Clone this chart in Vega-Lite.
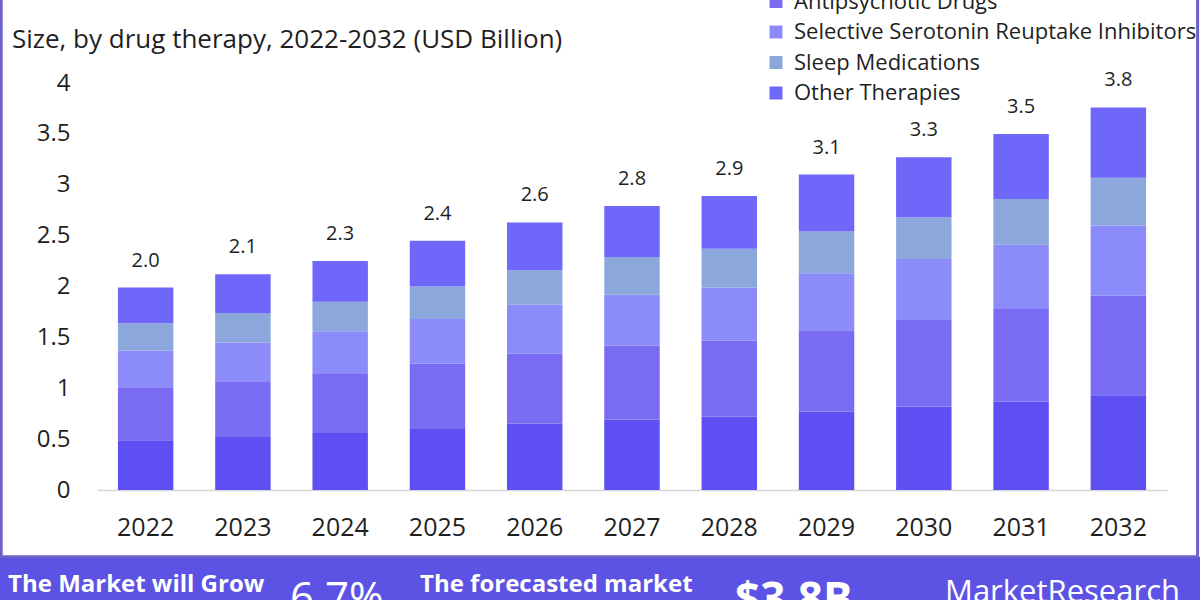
{
  "$schema": "https://vega.github.io/schema/vega-lite/v6.json",
  "width": 1070,
  "height": 407,
  "autosize": {"type": "none"},
  "padding": {"left": 97, "top": 83, "right": 33, "bottom": 110},
  "background": "white",
  "config": {
    "view": {"stroke": null},
    "font": "Open Sans",
    "text": {"font": "Open Sans"},
    "axisY": {"grid": false, "domain": false, "ticks": false, "tickSize": 0, "labelPadding": 27, "labelFontSize": 24, "labelColor": "#1f1f1f", "labelFont": "Open Sans", "zindex": 2},
    "axisX": {"labelAngle": 0, "labelFontSize": 25, "labelColor": "#1f1f1f", "labelFont": "Open Sans", "ticks": false, "tickSize": 0, "labelPadding": 25, "domainColor": "#d6d6d6", "domainWidth": 1.5, "grid": false, "zindex": 2}
  },
  "layer": [
    {
      "layer": [
        {
          "data": {"values": [
            {"year": "2022", "therapy": "Antidepressants", "value": 0.49},
            {"year": "2022", "therapy": "Antipsychotic Drugs", "value": 0.52},
            {"year": "2022", "therapy": "Selective Serotonin Reuptake Inhibitors", "value": 0.36},
            {"year": "2022", "therapy": "Sleep Medications", "value": 0.27},
            {"year": "2022", "therapy": "Other Therapies", "value": 0.35},
            {"year": "2023", "therapy": "Antidepressants", "value": 0.52},
            {"year": "2023", "therapy": "Antipsychotic Drugs", "value": 0.55},
            {"year": "2023", "therapy": "Selective Serotonin Reuptake Inhibitors", "value": 0.38},
            {"year": "2023", "therapy": "Sleep Medications", "value": 0.29},
            {"year": "2023", "therapy": "Other Therapies", "value": 0.38},
            {"year": "2024", "therapy": "Antidepressants", "value": 0.56},
            {"year": "2024", "therapy": "Antipsychotic Drugs", "value": 0.58},
            {"year": "2024", "therapy": "Selective Serotonin Reuptake Inhibitors", "value": 0.42},
            {"year": "2024", "therapy": "Sleep Medications", "value": 0.29},
            {"year": "2024", "therapy": "Other Therapies", "value": 0.40},
            {"year": "2025", "therapy": "Antidepressants", "value": 0.60},
            {"year": "2025", "therapy": "Antipsychotic Drugs", "value": 0.64},
            {"year": "2025", "therapy": "Selective Serotonin Reuptake Inhibitors", "value": 0.44},
            {"year": "2025", "therapy": "Sleep Medications", "value": 0.32},
            {"year": "2025", "therapy": "Other Therapies", "value": 0.45},
            {"year": "2026", "therapy": "Antidepressants", "value": 0.65},
            {"year": "2026", "therapy": "Antipsychotic Drugs", "value": 0.69},
            {"year": "2026", "therapy": "Selective Serotonin Reuptake Inhibitors", "value": 0.48},
            {"year": "2026", "therapy": "Sleep Medications", "value": 0.34},
            {"year": "2026", "therapy": "Other Therapies", "value": 0.47},
            {"year": "2027", "therapy": "Antidepressants", "value": 0.69},
            {"year": "2027", "therapy": "Antipsychotic Drugs", "value": 0.73},
            {"year": "2027", "therapy": "Selective Serotonin Reuptake Inhibitors", "value": 0.50},
            {"year": "2027", "therapy": "Sleep Medications", "value": 0.37},
            {"year": "2027", "therapy": "Other Therapies", "value": 0.50},
            {"year": "2028", "therapy": "Antidepressants", "value": 0.72},
            {"year": "2028", "therapy": "Antipsychotic Drugs", "value": 0.75},
            {"year": "2028", "therapy": "Selective Serotonin Reuptake Inhibitors", "value": 0.52},
            {"year": "2028", "therapy": "Sleep Medications", "value": 0.38},
            {"year": "2028", "therapy": "Other Therapies", "value": 0.52},
            {"year": "2029", "therapy": "Antidepressants", "value": 0.77},
            {"year": "2029", "therapy": "Antipsychotic Drugs", "value": 0.80},
            {"year": "2029", "therapy": "Selective Serotonin Reuptake Inhibitors", "value": 0.56},
            {"year": "2029", "therapy": "Sleep Medications", "value": 0.41},
            {"year": "2029", "therapy": "Other Therapies", "value": 0.56},
            {"year": "2030", "therapy": "Antidepressants", "value": 0.82},
            {"year": "2030", "therapy": "Antipsychotic Drugs", "value": 0.85},
            {"year": "2030", "therapy": "Selective Serotonin Reuptake Inhibitors", "value": 0.60},
            {"year": "2030", "therapy": "Sleep Medications", "value": 0.41},
            {"year": "2030", "therapy": "Other Therapies", "value": 0.59},
            {"year": "2031", "therapy": "Antidepressants", "value": 0.87},
            {"year": "2031", "therapy": "Antipsychotic Drugs", "value": 0.91},
            {"year": "2031", "therapy": "Selective Serotonin Reuptake Inhibitors", "value": 0.63},
            {"year": "2031", "therapy": "Sleep Medications", "value": 0.45},
            {"year": "2031", "therapy": "Other Therapies", "value": 0.64},
            {"year": "2032", "therapy": "Antidepressants", "value": 0.93},
            {"year": "2032", "therapy": "Antipsychotic Drugs", "value": 0.98},
            {"year": "2032", "therapy": "Selective Serotonin Reuptake Inhibitors", "value": 0.69},
            {"year": "2032", "therapy": "Sleep Medications", "value": 0.47},
            {"year": "2032", "therapy": "Other Therapies", "value": 0.69}
          ]},
          "transform": [{"window": [{"op": "row_number", "as": "stackOrder"}]}],
          "mark": {"type": "bar"},
          "encoding": {
            "x": {
              "field": "year", "type": "nominal", "title": null,
              "scale": {"paddingInner": 0.43, "paddingOuter": 0.215}
            },
            "y": {
              "field": "value", "type": "quantitative", "stack": "zero", "title": null,
              "scale": {"domain": [0, 4], "nice": false},
              "axis": {"values": [0, 0.5, 1, 1.5, 2, 2.5, 3, 3.5, 4], "format": "~g", "title": null, "orient": "left"}
            },
            "color": {
              "field": "therapy", "type": "nominal",
              "scale": {
                "domain": ["Antidepressants", "Antipsychotic Drugs", "Selective Serotonin Reuptake Inhibitors", "Sleep Medications", "Other Therapies"],
                "range": ["#5d4ff2", "#7a6cf2", "#8b8bfa", "#8ba7dc", "#6f67fa"]
              },
              "legend": {
                "title": null, "orient": "none", "legendX": 668, "legendY": -123,
                "symbolType": "square", "symbolSize": 169, "symbolStrokeWidth": 0,
                "labelFontSize": 22, "labelFont": "Open Sans", "labelColor": "#1f1f1f",
                "labelOffset": 7, "rowPadding": 8.5, "padding": 0, "offset": 0, "labelLimit": 500
              }
            },
            "order": {"field": "stackOrder", "type": "quantitative", "sort": "ascending"}
          }
        },
        {
          "data": {"values": [
            {"year": "2022", "total": 1.99, "label": "2.0"},
            {"year": "2023", "total": 2.12, "label": "2.1"},
            {"year": "2024", "total": 2.25, "label": "2.3"},
            {"year": "2025", "total": 2.45, "label": "2.4"},
            {"year": "2026", "total": 2.63, "label": "2.6"},
            {"year": "2027", "total": 2.79, "label": "2.8"},
            {"year": "2028", "total": 2.89, "label": "2.9"},
            {"year": "2029", "total": 3.10, "label": "3.1"},
            {"year": "2030", "total": 3.27, "label": "3.3"},
            {"year": "2031", "total": 3.50, "label": "3.5"},
            {"year": "2032", "total": 3.76, "label": "3.8"}
          ]},
          "mark": {"type": "text", "baseline": "alphabetic", "dy": -21, "fontSize": 20, "color": "#1f1f1f", "font": "Open Sans"},
          "encoding": {
            "x": {"field": "year", "type": "nominal", "title": null},
            "y": {"field": "total", "type": "quantitative", "title": null, "scale": {"domain": [0, 4], "nice": false}},
            "text": {"field": "label"}
          }
        }
      ]
    },
    {
      "data": {"values": [{"part": "banner"}]},
      "layer": [
        {
          "mark": {"type": "rect", "color": "#5c52e3"},
          "encoding": {
            "x": {"datum": 0, "type": "quantitative", "scale": {"domain": [0.080833, 0.9725], "nice": false, "zero": false}, "axis": null},
            "x2": {"datum": 1},
            "y": {"datum": -0.655, "type": "quantitative", "scale": {"domain": [0, 4], "nice": false}, "axis": null},
            "y2": {"datum": -1.4}
          }
        },
        {
          "mark": {"type": "rect", "filled": false, "stroke": "#6a62c8", "strokeWidth": 3},
          "encoding": {
            "x": {"datum": 0.001, "type": "quantitative", "scale": {"domain": [0.080833, 0.9725], "nice": false, "zero": false}, "axis": null},
            "x2": {"datum": 0.998},
            "y": {"datum": 6, "type": "quantitative", "scale": {"domain": [0, 4], "nice": false}, "axis": null},
            "y2": {"datum": -0.655}
          }
        },
        {
          "mark": {"type": "text", "align": "left", "baseline": "middle", "fontSize": 26, "color": "#1f1f1f"},
          "encoding": {
            "x": {"datum": 0.01, "type": "quantitative", "scale": {"domain": [0.080833, 0.9725], "nice": false, "zero": false}, "axis": null},
            "y": {"datum": 4.4226, "type": "quantitative", "scale": {"domain": [0, 4], "nice": false}, "axis": null},
            "text": {"value": "Size, by drug therapy, 2022-2032 (USD Billion)"}
          }
        },
        {
          "mark": {"type": "text", "align": "left", "baseline": "alphabetic", "fontSize": 24, "fontWeight": "bold", "color": "white"},
          "encoding": {
            "x": {"datum": 0.0067, "type": "quantitative", "scale": {"domain": [0.080833, 0.9725], "nice": false, "zero": false}, "axis": null},
            "y": {"datum": -1.0025, "type": "quantitative", "scale": {"domain": [0, 4], "nice": false}, "axis": null},
            "text": {"value": "The Market will Grow"}
          }
        },
        {
          "mark": {"type": "text", "align": "left", "baseline": "alphabetic", "fontSize": 42, "color": "white"},
          "encoding": {
            "x": {"datum": 0.2417, "type": "quantitative", "scale": {"domain": [0.080833, 0.9725], "nice": false, "zero": false}, "axis": null},
            "y": {"datum": -1.195, "type": "quantitative", "scale": {"domain": [0, 4], "nice": false}, "axis": null},
            "text": {"value": "6.7%"}
          }
        },
        {
          "mark": {"type": "text", "align": "left", "baseline": "alphabetic", "fontSize": 24, "fontWeight": "bold", "color": "white"},
          "encoding": {
            "x": {"datum": 0.35, "type": "quantitative", "scale": {"domain": [0.080833, 0.9725], "nice": false, "zero": false}, "axis": null},
            "y": {"datum": -1.0025, "type": "quantitative", "scale": {"domain": [0, 4], "nice": false}, "axis": null},
            "text": {"value": "The forecasted market"}
          }
        },
        {
          "mark": {"type": "text", "align": "left", "baseline": "alphabetic", "fontSize": 44, "fontWeight": "bold", "color": "white"},
          "encoding": {
            "x": {"datum": 0.6125, "type": "quantitative", "scale": {"domain": [0.080833, 0.9725], "nice": false, "zero": false}, "axis": null},
            "y": {"datum": -1.219, "type": "quantitative", "scale": {"domain": [0, 4], "nice": false}, "axis": null},
            "text": {"value": "$3.8B"}
          }
        },
        {
          "mark": {"type": "text", "align": "left", "baseline": "alphabetic", "fontSize": 31, "color": "white"},
          "encoding": {
            "x": {"datum": 0.7875, "type": "quantitative", "scale": {"domain": [0.080833, 0.9725], "nice": false, "zero": false}, "axis": null},
            "y": {"datum": -1.10, "type": "quantitative", "scale": {"domain": [0, 4], "nice": false}, "axis": null},
            "text": {"value": "MarketResearch"}
          }
        }
      ]
    }
  ],
  "resolve": {"scale": {"x": "independent", "y": "independent"}, "axis": {"x": "independent", "y": "independent"}}
}
